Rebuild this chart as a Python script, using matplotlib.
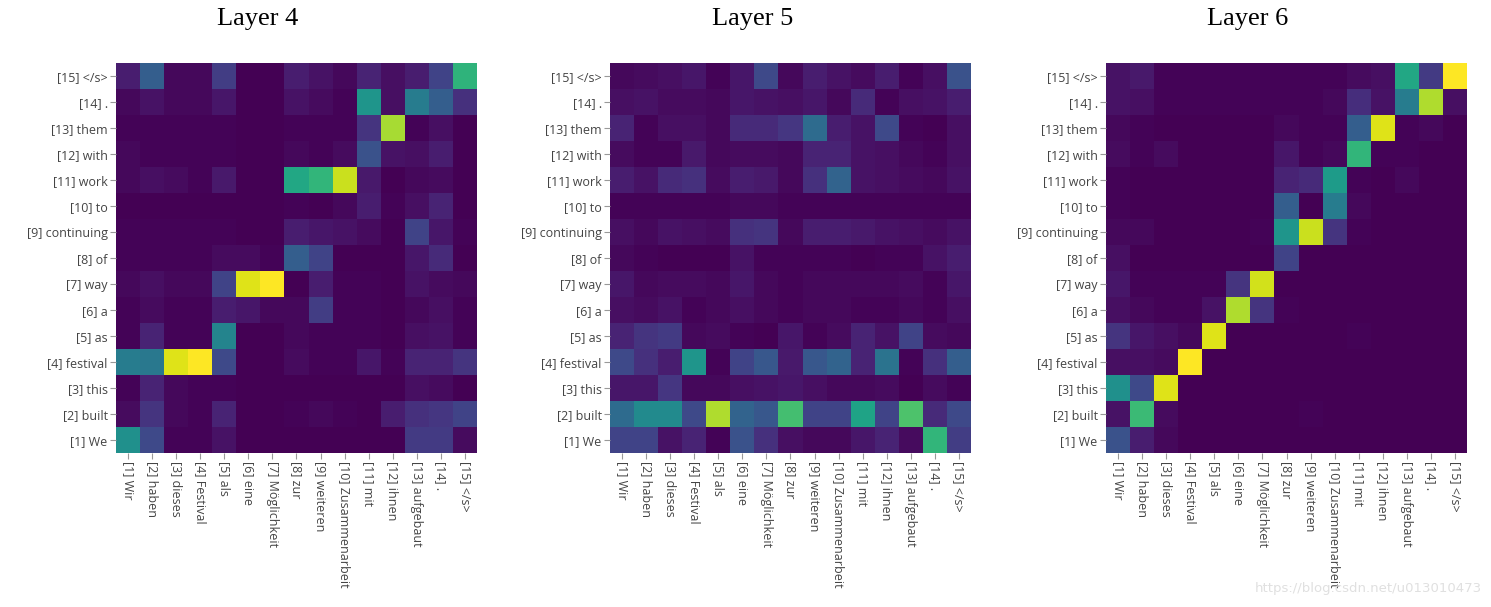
import numpy as np
import matplotlib
matplotlib.use("Agg")
import matplotlib.pyplot as plt

# target (English) tokens, rows from bottom to top
tgt = ["[1] We", "[2] built", "[3] this", "[4] festival", "[5] as", "[6] a",
       "[7] way", "[8] of", "[9] continuing", "[10] to", "[11] work",
       "[12] with", "[13] them", "[14] .", "[15] </s>"]
# source (German) tokens, columns
src = ["[1] Wir", "[2] haben", "[3] dieses", "[4] Festival", "[5] als",
       "[6] eine", "[7] Möglichkeit", "[8] zur", "[9] weiteren",
       "[10] Zusammenarbeit", "[11] mit", "[12] ihnen", "[13] aufgebaut",
       "[14] .", "[15] </s>"]
titles = ["Layer 4", "Layer 5", "Layer 6"]

# attention weights, row i = tgt[i]
layer4 = [
    [0.50, 0.22, 0.01, 0.01, 0.05, 0.00, 0.00, 0.00, 0.00, 0.00, 0.00, 0.00, 0.17, 0.17, 0.03],
    [0.03, 0.15, 0.02, 0.01, 0.10, 0.00, 0.00, 0.01, 0.02, 0.01, 0.00, 0.08, 0.14, 0.16, 0.20],
    [0.01, 0.10, 0.02, 0.01, 0.01, 0.00, 0.00, 0.00, 0.00, 0.00, 0.00, 0.00, 0.04, 0.03, 0.00],
    [0.42, 0.40, 0.95, 1.00, 0.22, 0.00, 0.00, 0.03, 0.01, 0.01, 0.06, 0.01, 0.10, 0.10, 0.15],
    [0.01, 0.10, 0.01, 0.01, 0.45, 0.00, 0.00, 0.02, 0.01, 0.01, 0.01, 0.00, 0.04, 0.05, 0.01],
    [0.01, 0.03, 0.01, 0.01, 0.08, 0.06, 0.02, 0.02, 0.18, 0.01, 0.01, 0.00, 0.02, 0.04, 0.01],
    [0.02, 0.04, 0.02, 0.02, 0.20, 0.95, 1.00, 0.00, 0.08, 0.01, 0.01, 0.00, 0.05, 0.03, 0.02],
    [0.01, 0.01, 0.01, 0.01, 0.03, 0.03, 0.01, 0.30, 0.20, 0.00, 0.00, 0.00, 0.06, 0.12, 0.00],
    [0.01, 0.01, 0.01, 0.01, 0.01, 0.00, 0.00, 0.08, 0.06, 0.05, 0.03, 0.00, 0.20, 0.06, 0.01],
    [0.00, 0.00, 0.00, 0.00, 0.00, 0.00, 0.00, 0.01, 0.00, 0.02, 0.08, 0.01, 0.04, 0.10, 0.00],
    [0.02, 0.04, 0.03, 0.01, 0.07, 0.00, 0.00, 0.60, 0.66, 0.92, 0.07, 0.00, 0.02, 0.03, 0.00],
    [0.02, 0.01, 0.01, 0.01, 0.01, 0.00, 0.00, 0.02, 0.01, 0.03, 0.25, 0.05, 0.04, 0.08, 0.00],
    [0.01, 0.01, 0.01, 0.01, 0.01, 0.00, 0.00, 0.01, 0.01, 0.01, 0.15, 0.87, 0.01, 0.04, 0.00],
    [0.02, 0.05, 0.02, 0.02, 0.06, 0.00, 0.00, 0.05, 0.03, 0.01, 0.52, 0.04, 0.42, 0.30, 0.14],
    [0.08, 0.30, 0.02, 0.02, 0.18, 0.00, 0.00, 0.08, 0.05, 0.02, 0.10, 0.04, 0.08, 0.20, 0.65],
]
layer5 = [
    [0.20, 0.20, 0.05, 0.10, 0.01, 0.25, 0.14, 0.04, 0.02, 0.02, 0.06, 0.10, 0.03, 0.66, 0.18],
    [0.35, 0.48, 0.48, 0.22, 0.88, 0.32, 0.27, 0.70, 0.20, 0.20, 0.58, 0.20, 0.72, 0.12, 0.22],
    [0.06, 0.06, 0.16, 0.02, 0.02, 0.04, 0.05, 0.06, 0.04, 0.02, 0.02, 0.03, 0.00, 0.03, 0.01],
    [0.22, 0.14, 0.08, 0.52, 0.01, 0.20, 0.27, 0.07, 0.27, 0.32, 0.10, 0.38, 0.01, 0.14, 0.30],
    [0.10, 0.15, 0.17, 0.02, 0.03, 0.01, 0.00, 0.06, 0.01, 0.03, 0.10, 0.05, 0.20, 0.03, 0.02],
    [0.04, 0.03, 0.05, 0.01, 0.02, 0.04, 0.02, 0.01, 0.02, 0.02, 0.01, 0.01, 0.02, 0.01, 0.04],
    [0.06, 0.02, 0.03, 0.03, 0.02, 0.06, 0.02, 0.01, 0.02, 0.02, 0.02, 0.02, 0.03, 0.01, 0.06],
    [0.02, 0.01, 0.00, 0.00, 0.00, 0.05, 0.01, 0.01, 0.01, 0.01, 0.00, 0.01, 0.01, 0.05, 0.08],
    [0.04, 0.02, 0.05, 0.04, 0.03, 0.14, 0.15, 0.02, 0.08, 0.08, 0.07, 0.05, 0.04, 0.03, 0.05],
    [0.01, 0.01, 0.01, 0.01, 0.01, 0.02, 0.02, 0.01, 0.01, 0.01, 0.01, 0.01, 0.01, 0.01, 0.01],
    [0.08, 0.05, 0.12, 0.14, 0.03, 0.08, 0.07, 0.02, 0.14, 0.32, 0.05, 0.04, 0.03, 0.02, 0.05],
    [0.03, 0.01, 0.01, 0.07, 0.02, 0.03, 0.03, 0.02, 0.10, 0.10, 0.05, 0.04, 0.02, 0.01, 0.04],
    [0.10, 0.01, 0.04, 0.04, 0.02, 0.12, 0.12, 0.16, 0.35, 0.08, 0.05, 0.22, 0.01, 0.00, 0.04],
    [0.04, 0.05, 0.03, 0.03, 0.02, 0.06, 0.05, 0.04, 0.06, 0.02, 0.12, 0.01, 0.04, 0.05, 0.08],
    [0.02, 0.03, 0.04, 0.06, 0.01, 0.06, 0.22, 0.02, 0.08, 0.05, 0.03, 0.08, 0.01, 0.04, 0.25],
]
layer6 = [
    [0.25, 0.08, 0.02, 0.00, 0.00, 0.00, 0.00, 0.00, 0.00, 0.00, 0.00, 0.00, 0.00, 0.00, 0.00],
    [0.05, 0.68, 0.03, 0.00, 0.00, 0.00, 0.00, 0.00, 0.01, 0.00, 0.00, 0.00, 0.00, 0.00, 0.00],
    [0.50, 0.22, 0.95, 0.00, 0.00, 0.00, 0.00, 0.00, 0.00, 0.00, 0.00, 0.00, 0.00, 0.00, 0.00],
    [0.04, 0.04, 0.03, 1.00, 0.00, 0.00, 0.00, 0.00, 0.00, 0.00, 0.00, 0.00, 0.00, 0.00, 0.00],
    [0.15, 0.06, 0.04, 0.02, 0.95, 0.00, 0.00, 0.00, 0.00, 0.00, 0.01, 0.00, 0.00, 0.00, 0.00],
    [0.04, 0.02, 0.01, 0.01, 0.05, 0.88, 0.15, 0.01, 0.00, 0.00, 0.00, 0.00, 0.00, 0.00, 0.00],
    [0.06, 0.01, 0.01, 0.01, 0.01, 0.15, 0.93, 0.00, 0.00, 0.00, 0.00, 0.00, 0.00, 0.00, 0.00],
    [0.04, 0.00, 0.00, 0.00, 0.00, 0.00, 0.00, 0.20, 0.00, 0.00, 0.00, 0.00, 0.00, 0.00, 0.00],
    [0.02, 0.02, 0.00, 0.00, 0.00, 0.00, 0.01, 0.52, 0.92, 0.15, 0.01, 0.00, 0.00, 0.00, 0.00],
    [0.01, 0.00, 0.00, 0.00, 0.00, 0.00, 0.00, 0.30, 0.00, 0.42, 0.02, 0.00, 0.00, 0.00, 0.00],
    [0.01, 0.00, 0.00, 0.00, 0.00, 0.00, 0.00, 0.10, 0.12, 0.55, 0.01, 0.00, 0.02, 0.00, 0.00],
    [0.03, 0.01, 0.03, 0.00, 0.00, 0.00, 0.00, 0.06, 0.01, 0.02, 0.66, 0.01, 0.01, 0.00, 0.00],
    [0.02, 0.01, 0.00, 0.00, 0.00, 0.00, 0.00, 0.02, 0.01, 0.01, 0.30, 0.95, 0.01, 0.02, 0.00],
    [0.05, 0.04, 0.01, 0.01, 0.01, 0.01, 0.01, 0.01, 0.01, 0.02, 0.13, 0.05, 0.42, 0.88, 0.04],
    [0.05, 0.07, 0.01, 0.01, 0.01, 0.01, 0.01, 0.01, 0.01, 0.01, 0.03, 0.04, 0.60, 0.17, 1.00],
]

fig = plt.figure(figsize=(14.91, 6.07), dpi=100)

lefts = [0.0778, 0.4091, 0.7418]
title_x = [0.173, 0.505, 0.837]
for i, data in enumerate([layer4, layer5, layer6]):
    ax = fig.add_axes([lefts[i], 0.2537, 0.2421, 0.6425])
    ax.imshow(np.array(data), cmap="viridis", vmin=0, vmax=1,
              origin="lower", aspect="auto", interpolation="nearest")
    ax.set_xticks(range(len(src)))
    ax.set_xticklabels(src, rotation=-90, fontsize=9, color="#444444",
                       family="Open Sans")
    ax.set_yticks(range(len(tgt)))
    ax.set_yticklabels(tgt, fontsize=9, color="#444444", family="Open Sans")
    ax.tick_params(length=4, width=0.8, color="#999999", pad=2)
    for s in ax.spines.values():
        s.set_visible(False)
    fig.text(title_x[i], 0.968, titles[i], ha="center", va="center",
             fontsize=19, family="Liberation Serif")

fig.text(0.994, 0.03, "https://blog.csdn.net/u013010473", ha="right",
         va="center", fontsize=9.5, color="#e0e0e0")

fig.savefig("out.png", dpi=100)
